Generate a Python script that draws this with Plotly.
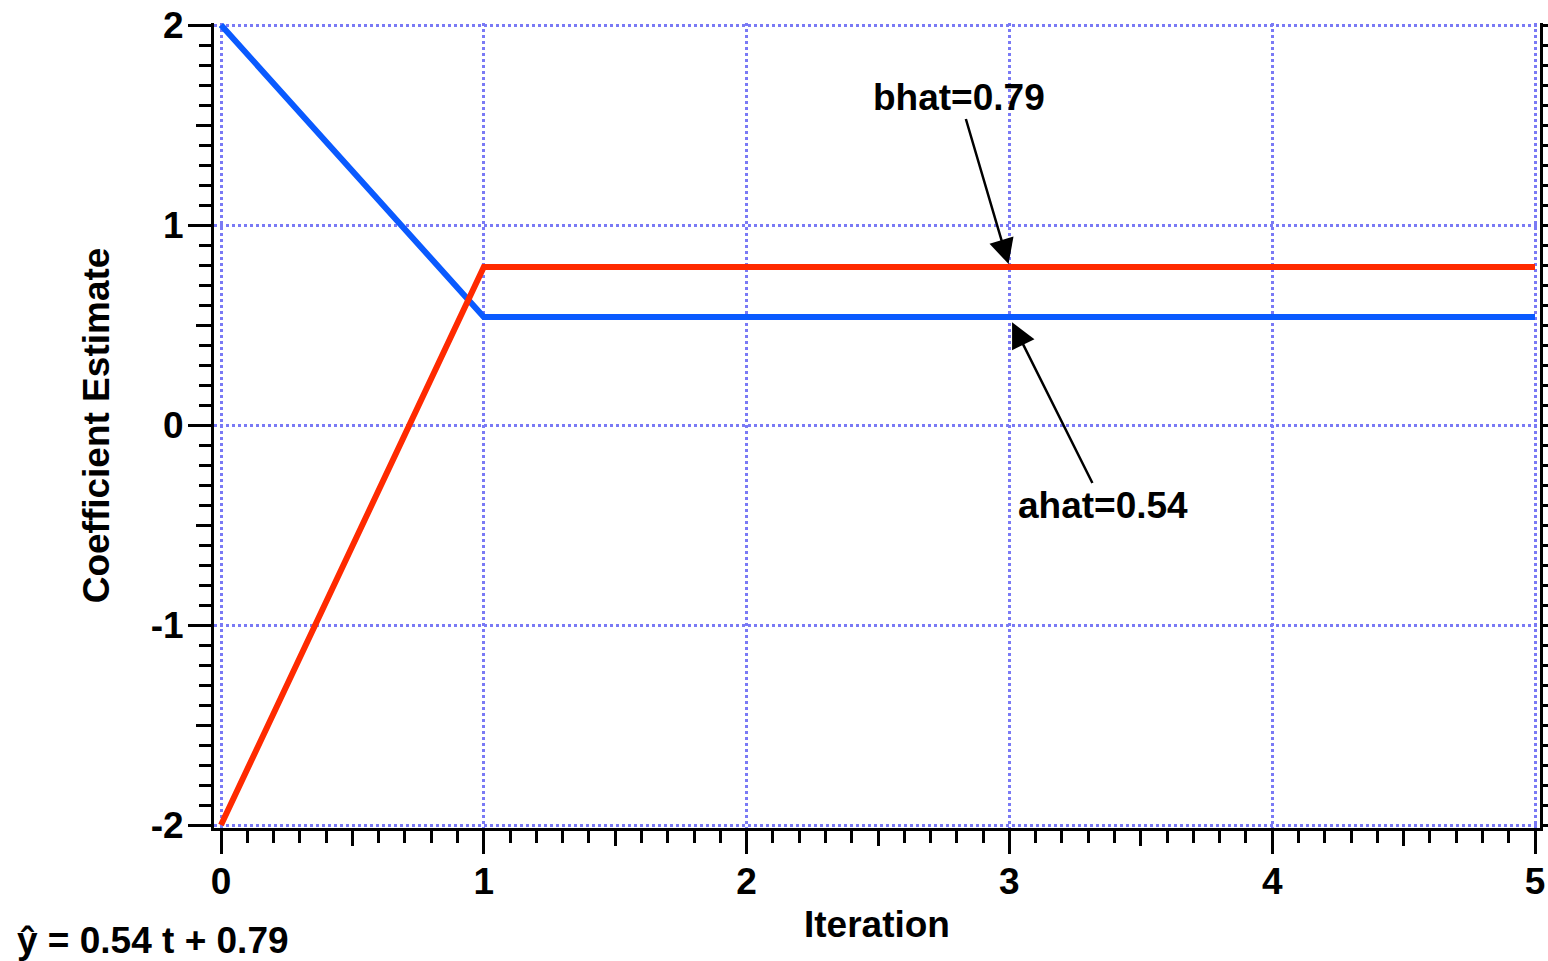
import plotly.graph_objects as go

# Data
iterations = [0, 1, 2, 3, 4, 5]
ahat = [2.0, 0.54, 0.54, 0.54, 0.54, 0.54]
bhat = [-2.0, 0.79, 0.79, 0.79, 0.79, 0.79]
x_ticks = [0, 1, 2, 3, 4, 5]
y_ticks = [-2, -1, 0, 1, 2]
x_mid_ticks = [0.5, 1.5, 2.5, 3.5, 4.5]
y_mid_ticks = [-1.5, -0.5, 0.5, 1.5]

FONT = "Liberation Sans, Arial, Helvetica, sans-serif"
BLUE = "#0A5AFF"
RED = "#FF2A00"
GRID = "#7A7AF5"

fig = go.Figure()
fig.add_trace(go.Scatter(x=iterations, y=ahat, mode="lines",
                         line=dict(color=BLUE, width=6), showlegend=False))
fig.add_trace(go.Scatter(x=iterations, y=bhat, mode="lines",
                         line=dict(color=RED, width=6), showlegend=False))
# invisible trace to attach the medium-tick overlay axes
fig.add_trace(go.Scatter(x=[0], y=[0], xaxis="x2", yaxis="y2", mode="markers",
                         marker=dict(opacity=0), showlegend=False, hoverinfo="skip"))

xr = [-7 / 262.8, 5 + 5 / 262.8]
yr = [-2.015, 2.01]

tickfont = dict(family=FONT, size=37, color="black", weight=700)
titlefont = dict(family=FONT, size=37, color="black", weight=700)

fig.update_layout(
    width=1548, height=961,
    margin=dict(l=214, r=8, t=23, b=133, autoexpand=False),
    plot_bgcolor="white", paper_bgcolor="white",
    xaxis=dict(
        range=xr, tickvals=x_ticks, ticktext=[str(v) for v in x_ticks],
        ticks="outside", ticklen=23, tickwidth=3, tickcolor="black",
        showline=True, linecolor="black", linewidth=3, mirror=False,
        showgrid=True, gridcolor=GRID, gridwidth=2.5, griddash="dot",
        zeroline=False, tickfont=tickfont, automargin=False,
        ticklabelstandoff=-4,
        minor=dict(dtick=0.1, tick0=0, ticks="outside", ticklen=12,
                   tickwidth=3, tickcolor="black", showgrid=False),
        title=dict(text="Iteration", font=titlefont, standoff=10),
    ),
    yaxis=dict(
        range=yr, tickvals=y_ticks, ticktext=[str(v) for v in y_ticks],
        ticks="outside", ticklen=23, tickwidth=3, tickcolor="black",
        showline=True, linecolor="black", linewidth=3, mirror="ticks",
        showgrid=True, gridcolor=GRID, gridwidth=2.5, griddash="dot",
        zeroline=False, tickfont=tickfont, automargin=False,
        ticklabelstandoff=-3,
        minor=dict(dtick=0.1, tick0=0, ticks="outside", ticklen=12,
                   tickwidth=3, tickcolor="black", showgrid=False),
        title=dict(text="Coefficient Estimate", font=titlefont, standoff=30),
    ),
    xaxis2=dict(
        overlaying="x", anchor="y", side="bottom", range=xr,
        tickvals=x_mid_ticks, showticklabels=False, ticks="outside",
        ticklen=17, tickwidth=3, tickcolor="black", automargin=False,
        showline=False, showgrid=False, zeroline=False,
    ),
    yaxis2=dict(
        overlaying="y", anchor="x", side="left", range=yr,
        tickvals=y_mid_ticks, showticklabels=False, ticks="outside",
        ticklen=17, tickwidth=3, tickcolor="black", automargin=False,
        showline=False, showgrid=False, zeroline=False,
    ),
)

ann_font = dict(family=FONT, size=37, color="black", weight=700)
fig.add_annotation(x=3, y=bhat[-1], xref="x", yref="y", text="bhat=0.79",
                   ax=-50, ay=-170, axref="pixel", ayref="pixel",
                   showarrow=True, arrowhead=2, arrowsize=2, arrowwidth=2.5,
                   arrowcolor="black", standoff=3, font=ann_font)
fig.add_annotation(x=3, y=ahat[-1], xref="x", yref="y", text="ahat=0.54",
                   ax=94, ay=188, axref="pixel", ayref="pixel",
                   showarrow=True, arrowhead=2, arrowsize=2, arrowwidth=2.5,
                   arrowcolor="black", standoff=6, font=ann_font)
fig.add_annotation(xref="paper", yref="paper", x=(15 - 214) / 1326, y=(828 - 940) / 805,
                   xanchor="left", yanchor="middle", showarrow=False,
                   text="ŷ = 0.54 t + 0.79", font=ann_font)

fig.write_html("out.html")
